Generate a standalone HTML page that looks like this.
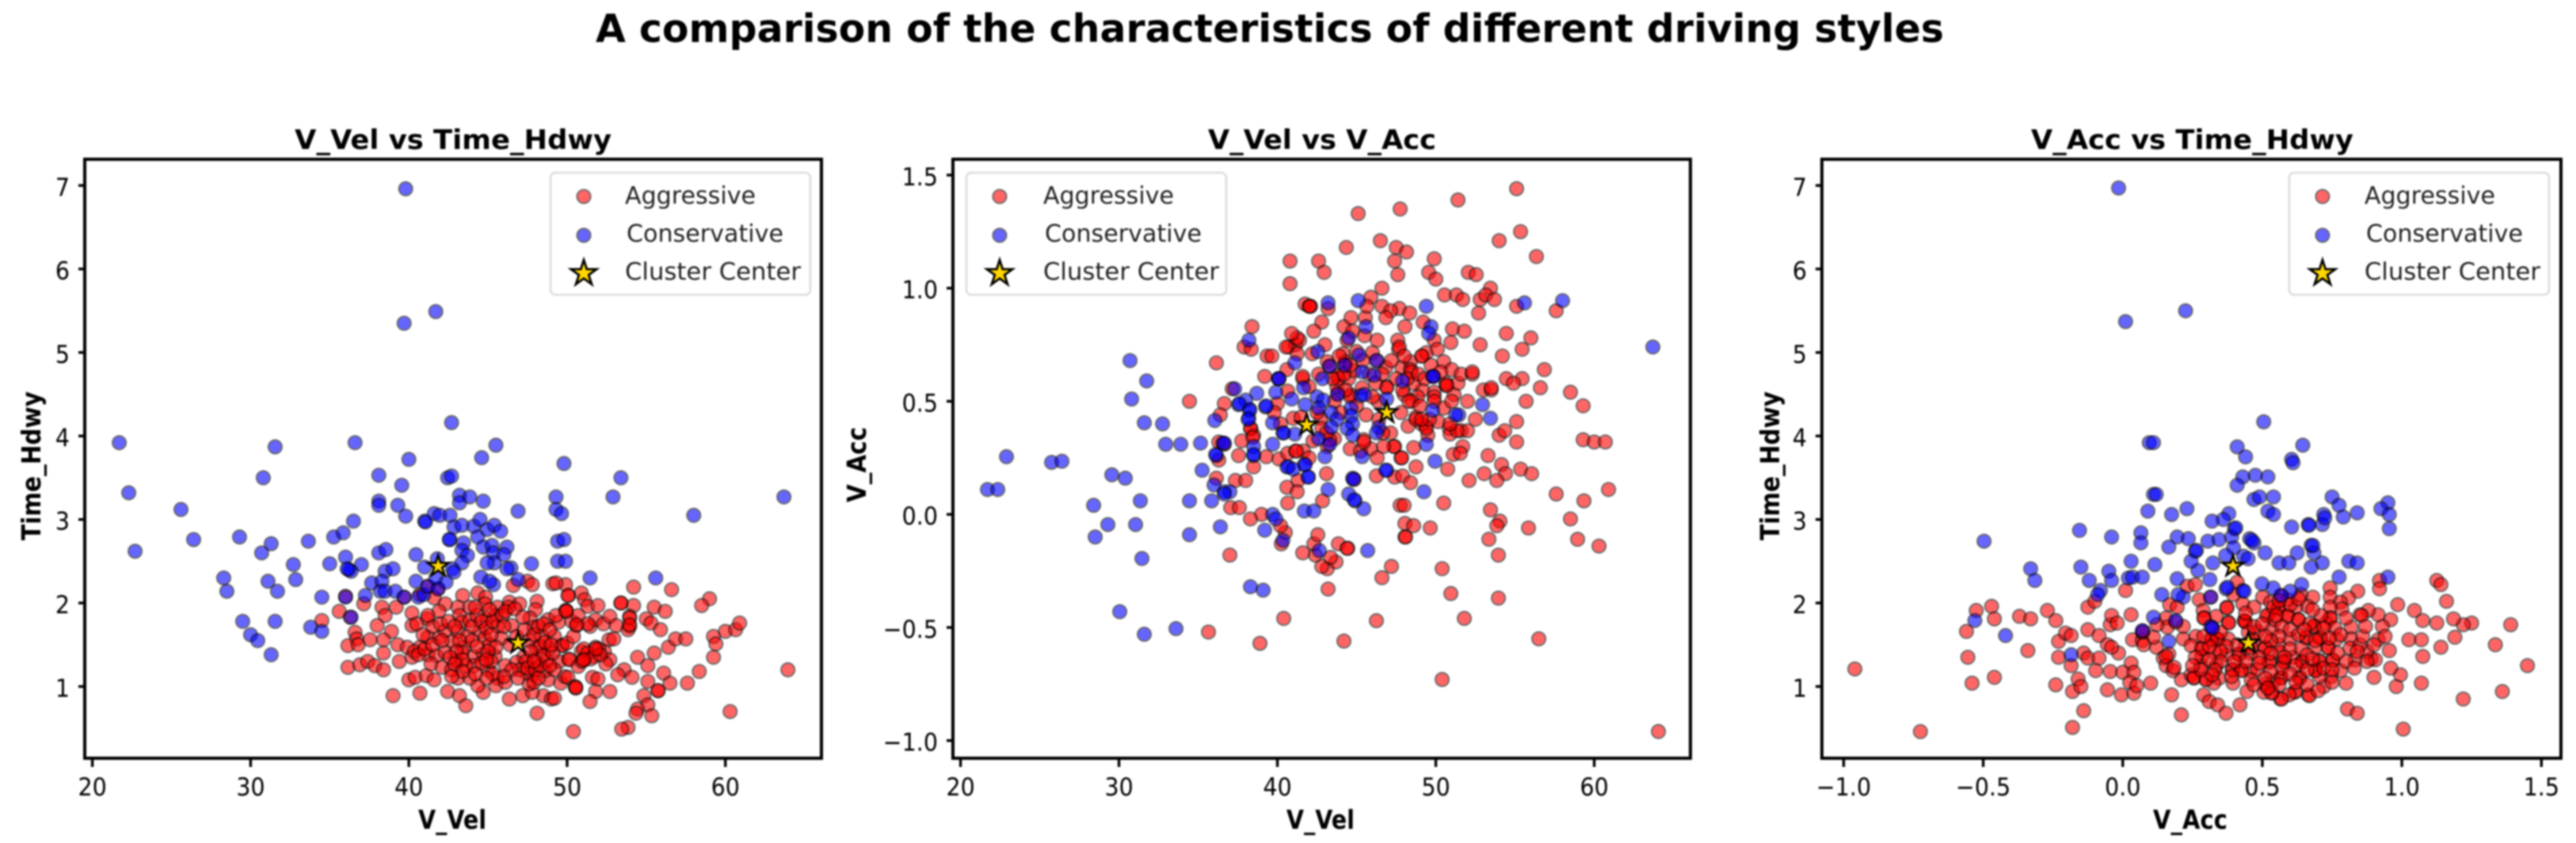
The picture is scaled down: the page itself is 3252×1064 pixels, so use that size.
<!DOCTYPE html>
<html lang="en">
<head>
<meta charset="utf-8">
<title>A comparison of the characteristics of different driving styles</title>
<style>
html,body{margin:0;padding:0;background:#fff;}
body{width:3252px;height:1064px;overflow:hidden;}
svg{display:block;filter:blur(1.1px);}
text{font-family:"DejaVu Sans","Liberation Sans",sans-serif;fill:#000;}
.bold{font-weight:bold;}
.leg{fill:#222;font-size:30px;}
</style>
</head>
<body>
<svg id="figure" xmlns="http://www.w3.org/2000/svg" width="3252" height="1064" viewBox="0 0 3252 1064">
  <rect x="0" y="0" width="3252" height="1064" fill="#fff"/>
  <text class="bold" x="752" y="53" font-size="49" textLength="1702" lengthAdjust="spacingAndGlyphs">A comparison of the characteristics of different driving styles</text>

  <g id="panel-1">
    <text class="bold" x="372" y="188" font-size="34" textLength="400" lengthAdjust="spacingAndGlyphs">V_Vel vs Time_Hdwy</text>
    <text class="bold" x="528" y="1046" font-size="33" textLength="86" lengthAdjust="spacingAndGlyphs">V_Vel</text>
    <text class="bold" transform="translate(51,682) rotate(-90)" font-size="33" textLength="188" lengthAdjust="spacingAndGlyphs">Time_Hdwy</text>
  </g>
  <g id="panel-2">
    <text class="bold" x="1525" y="188" font-size="34" textLength="288" lengthAdjust="spacingAndGlyphs">V_Vel vs V_Acc</text>
    <text class="bold" x="1624" y="1046" font-size="33" textLength="86" lengthAdjust="spacingAndGlyphs">V_Vel</text>
    <text class="bold" transform="translate(1093,634) rotate(-90)" font-size="33" textLength="95" lengthAdjust="spacingAndGlyphs">V_Acc</text>
  </g>
  <g id="panel-3">
    <text class="bold" x="2564" y="188" font-size="34" textLength="407" lengthAdjust="spacingAndGlyphs">V_Acc vs Time_Hdwy</text>
    <text class="bold" x="2718" y="1046" font-size="33" textLength="94" lengthAdjust="spacingAndGlyphs">V_Acc</text>
    <text class="bold" transform="translate(2246,682) rotate(-90)" font-size="33" textLength="188" lengthAdjust="spacingAndGlyphs">Time_Hdwy</text>
  </g>
  <g id="legends"></g>
</svg>
<script>
// ---------- Axis tick values and labels ----------
const velTicks = [20, 30, 40, 50, 60];
const velTickLabels = ['20', '30', '40', '50', '60'];
const hdwyTicks = [1, 2, 3, 4, 5, 6, 7];
const hdwyTickLabels = ['1', '2', '3', '4', '5', '6', '7'];
const accTicks = [-1, -0.5, 0, 0.5, 1, 1.5];
const accTickLabels = ['\u22121.0', '\u22120.5', '0.0', '0.5', '1.0', '1.5'];

// ---------- Axis data limits ----------
const velLimits = [19.52, 66.07];
const hdwyLimits = [0.141, 7.314];
const accLimits = [-1.078, 1.57];

// ---------- Cluster centers [V_Vel, Time_Hdwy, V_Acc] ----------
const aggressiveCenter = [46.9, 1.52, 0.45];
const conservativeCenter = [41.85, 2.44, 0.395];

// ---------- Panel 1: [V_Vel, Time_Hdwy] ----------
const velHdwyAggressive = [
[46.6,2.21],[47.5,2.26],[47.8,2.22],[49.1,2.23],[49.9,2.22],[50.1,2.09],[43.4,2.09],[44.35,2.12],[44.85,2.07],[44.8,1.99],[46.35,2.01],[47,1.99],[48.1,2.02],[48,1.92],[45.6,1.95],[46.3,1.95],
[41.85,2.17],[41.6,2.06],[42.3,1.99],[43.1,1.95],[43.85,1.95],[43.2,1.85],[41.9,1.9],[41.15,1.81],[40.2,1.88],[40.2,1.73],[39.2,1.95],[38.3,1.95],[38.5,1.85],[37.15,1.99],[35.6,1.9],[34.5,1.79],[38,1.73],[38.9,1.66],
[36.6,1.65],[36.7,1.57],[36.15,1.49],[36.8,1.5],[37.55,1.56],[38.4,1.56],[39.3,1.5],[38.4,1.4],[39.4,1.3],[39.9,1.47],[40.2,1.35],[36.15,1.23],[36.9,1.26],[37.4,1.3],[37.85,1.25],[38.4,1.2],
[40,1.08],[40.4,1.11],[41.1,1.13],[41.6,1.08],[39,0.89],[40.7,0.92],[42.45,0.94],[43.2,0.89],[43.6,0.77],[46.35,0.85],[47.2,0.89],[48.1,0.68],[48.5,0.89],[49,0.85],[47.8,0.93],[44.7,0.93],[44.35,1.01],[43.1,1.1],[43.85,1.1],[45.6,1.1],[45.5,1.01],[46.1,1.05],[47.85,1.14],[47.6,1.03],[48.8,1.08],[49.6,1.04],
[40.7,1.47],[41.2,1.59],[41.2,1.38],[41.75,1.37],[41.4,1.27],[42.1,1.23],[42.7,1.2],[43,1.31],[42.3,1.41],[41.9,1.58],[42.3,1.67],[42.75,1.54],[43.35,1.77],[43.1,1.66],[43.85,1.79],[43.7,1.6],[43.5,1.47],[44.5,1.66],[44.8,1.58],[44.1,1.36],[44.7,1.39],[45.1,1.5],[45.45,1.36],[45,1.2],[44.1,1.25],[43.6,1.25],[46.1,1.25],[44.9,1.81],[45.5,1.85],[45.6,1.72],[46.5,1.73],[47.65,1.82],[47.9,1.71],[48.8,1.8],[49.45,1.77],[49.9,1.91],[48.4,1.6],[49.2,1.6],[49.65,1.49],[48.05,1.46],[47.25,1.35],[48,1.32],[46.8,1.29],[47.45,1.16],[48.6,1.19],[48.85,1.44],[48.7,1.31],[49.5,1.3],[50.1,1.33],[49.85,1.12],[45.85,1.58],[45.5,1.47],
[36,2.08],[36.3,1.83],[39.7,2.07],[41.2,2.2],[40.7,2.1],
[49.3,2.24],[50.05,2.09],[54.2,2.19],[56.6,2.16],[59,2.05],[58.5,1.97],[50.9,2.12],[51.1,2.04],[51.3,1.96],[51.95,1.97],[53.4,2],[54.2,1.97],[55.5,1.95],[56.2,1.9],[49.95,1.91],[50.6,1.73],[51.45,1.72],[51.8,1.8],[52.3,1.75],[52.7,1.84],[53.1,1.73],[53.95,1.84],[53.95,1.72],[53.85,1.68],[55,1.81],[55.3,1.76],[55.9,1.68],[49.7,1.49],[50.9,1.42],[51.8,1.47],[52.65,1.56],[52.95,1.57],[52.35,1.42],[51.7,1.36],[51.05,1.32],[50.15,1.32],[50.7,1.24],[52.7,1.32],[52.45,1.27],[54.45,1.35],[55.5,1.4],[56.4,1.47],[56.85,1.57],[57.5,1.57],[59.25,1.6],[59.4,1.51],[59.25,1.35],[60,1.66],[60.65,1.68],[60.9,1.76],[55.1,1.25],[56.1,1.16],[58.35,1.18],[57.6,1.04],[56.5,1.04],[55.1,1.06],[55.75,0.95],[53.6,1.2],[53.2,1.14],[54.1,1.11],[54.85,0.89],[55.1,0.78],[54.45,0.73],[54.35,0.68],[55.35,0.65],[53.85,0.51],[53.45,0.49],[50.4,0.46],[60.3,0.7],[63.95,1.2],[51.6,1.11],[51.95,1.09],[51.8,0.94],[52.7,0.94],[51.45,0.82],[50.05,1.11],[50.5,1],[50.55,0.98],[49.2,0.86],
[40.5,1.75],[40.9,1.62],[41.5,1.72],[40.35,1.42],[40.6,1.38],[41,1.45],[41.5,1.5],[42,1.75],[42.5,1.78],[42.9,1.72],[43.2,1.55],[43.35,1.41],[43,1.42],[42.6,1.35],[43.4,1.32],[42.9,1.27],[44,1.55],[44.3,1.48],[44,1.72],[44.3,1.85],[44.6,1.78],[44.9,1.7],[45.2,1.62],[45.3,1.78],[45.9,1.85],[46.1,1.9],[46.7,1.93],[46,1.72],[46.4,1.5],[46.8,1.6],[47.3,1.68],[47.6,1.55],[47.9,1.62],[48.2,1.72],[48.5,1.75],[48.9,1.68],[49.3,1.85],[48.3,1.48],[48.6,1.53],[47.7,1.42],[47.4,1.3],[47,1.2],[47.5,1.22],[48,1.2],[48.3,1.25],[48.5,1.37],[49.1,1.4],[49.2,1.2],[48.9,1.25],[45,1.42],[45.2,1.3],[44.6,1.28],[44.9,1.32],[46.5,1.2],[46,1.12],[45.3,1.15],[44.9,1.1],[44.2,1.15],[43.4,1.18],[42.7,1.12],[46.9,1.1],[47.9,1.05],[41.2,1.85],[42.1,1.55],[44.2,1.95],[45.1,1.92],[47.2,1.83],[47.9,1.3],[48.2,1.1],[50,1.52],[50.4,1.6],[49,1.5],[50.3,1.78],[50.7,1.85],[51.3,1.75],[51.05,1.45],[51.3,1.4],[51.5,1.33],[50.95,1.3],[52,1.45],[52.1,1.38],
[51.8,1.45],[51.05,1.32],[53.95,1.82],[53.95,1.74],[53.4,2],[50.55,0.99],[55.75,0.95],[49.95,1.9],[50.6,1.74]
];
const velHdwyConservative = [
[21.7,3.92],[22.3,3.32],[22.7,2.62],[25.6,3.12],[26.4,2.76],[28.3,2.3],[28.5,2.14],[29.3,2.79],[29.5,1.78],[30,1.62],[30.45,1.55],[30.8,3.5],[30.7,2.6],[31.3,2.71],[31.1,2.26],[31.7,2.14],[31.55,1.78],[31.3,1.38],[31.55,3.87],[32.7,2.46],[32.85,2.28],[33.65,2.74],[34.5,2.07],[33.8,1.71],[34.5,1.66],
[35,2.47],[35.25,2.79],[35.85,2.84],[36,2.55],[36.2,2.4],[36.5,2.98],[37,2.46],[36.6,3.92],[36,2.07],[36.35,1.83],[37.25,2.09],[38.1,2.6],[38.55,2.64],[38.1,3.53],[38.1,3.22],[38.1,3.17],[39.3,3.17],[39.55,3.41],[39.8,3.04],[40,3.72],[39.8,6.96],[39.7,5.35],[41.7,5.49],[41,2.98],[41.6,3.07],[41.95,3.05],[42.6,3.05],[42.6,2.76],[42.45,3.5],[42.7,3.52],[42.7,4.16],[43.2,3.29],[43.2,3.2],[43.85,3.27],[44.7,3.22],[44.6,3.74],[45.5,3.89],[46.9,3.1],[47.75,2.47],[49.3,3.27],[49.3,3.12],[49.65,3.07],[49.8,3.67],[49.4,2.74],[49.8,2.76],[49.4,2.5],[49.9,2.5],[52.9,3.27],[53.4,3.5],[58,3.05],[63.7,3.27],[55.6,2.3],[51.45,2.3],
[36.35,2.38],[36.1,2.41],[38.5,2.38],[39,2.41],[37.65,2.24],[38.3,2.26],[38.2,2.14],[38.5,2.14],[39.15,2.14],[39.7,2.07],[40.6,2.07],[40.95,2.1],[40.45,2.26],[41.2,2.2],[41.85,2.17],[41.7,2.3],[42.35,2.25],[41,2.43],[41.8,2.53],[42.75,2.41],[40.45,2.58],[42.55,2.76],[42.85,2.91],[43.35,2.93],[44.1,2.92],[44.5,3],[44.35,2.79],[44.95,2.88],[45.4,2.93],[45.8,2.86],[43.45,2.72],[43.35,2.63],[43.7,2.57],[43.35,2.48],[42.85,2.37],[44.7,2.67],[45.25,2.69],[45.35,2.6],[46.2,2.67],[46,2.58],[45.4,2.48],[44.95,2.48],[46.45,2.42],[46.2,2.41],[44.55,2.31],[45.35,2.22],[45.1,2.26],[46.9,2.28],[41.05,2.97]
];

// ---------- Panel 2: [V_Vel, V_Acc] ----------
const velAccAggressive = [
[55.1,1.44],[51.4,1.39],[45.1,1.33],[47.75,1.35],[55.35,1.25],[54,1.21],[46.5,1.21],[44.35,1.18],[47.5,1.18],[48.15,1.16],[56.35,1.14],[49.9,1.13],[47.4,1.12],[40.8,1.12],[42.6,1.12],[42.95,1.07],[47.6,1.06],[49.55,1.07],[50,1.04],[52.05,1.07],[52.55,1.06],[40.8,1.02],[46.6,1],[53.45,1],[50.55,0.97],[51.3,0.97],[51.7,0.95],[52.8,0.95],[53.15,0.97],[53.7,0.95],[45.9,0.96],[55.1,0.92],[57.6,0.9],[52.7,0.89],[54.45,0.8],[56,0.78],[51.05,0.82],[51.8,0.81],[50.95,0.76],[52.8,0.75],[55.45,0.73],[54.2,0.7],[56.85,0.64],[54.45,0.6],[55.45,0.6],[54.9,0.58],[56.6,0.56],[58.5,0.54],[55.7,0.5],[59.3,0.48],[55.1,0.41],[54,0.35],[54.35,0.37],[59.3,0.33],[60,0.32],[60.7,0.32],[55.1,0.32],[53.3,0.26],[54.15,0.22],[55.35,0.2],[54.4,0.18],[53.05,0.18],[53.85,0.15],[52.1,0.15],[56.05,0.18],[57.6,0.09],[60.9,0.11],[59.35,0.06],[53.45,0.02],[50.5,0.05],[54.05,-0.03],[53.85,-0.05],[55.85,-0.06],[58.5,-0.02],[58.95,-0.11],[60.3,-0.14],[53.35,-0.11],[53.95,-0.18],[49.65,-0.06],[48.05,-0.04],[48.6,-0.05],[48.05,-0.1],[50.4,-0.24],[50.95,-0.35],[53.95,-0.37],[51.8,-0.46],[56.5,-0.55],[50.4,-0.73],[64.05,-0.96],[46.25,-0.47],[47.2,-0.23],[46.6,-0.28],[44.2,-0.56],[40.4,-0.46],[38.9,-0.57],[35.65,-0.52],[43.2,-0.33],[43.15,-0.24],[43.7,-0.21],[42.8,-0.23],[43.35,-0.19],[42.4,-0.18],[42.3,-0.13],[41.6,-0.17],[42.55,-0.09],[43.85,-0.13],[44.45,-0.15],[40.5,-0.08],[40.2,-0.05],[40.25,-0.13],[39,0],[38.3,-0.02],[37,-0.18],[37.05,0.03],[37.6,0.03],[36.15,0.16],[37.35,0.15],[38,0.15],[38.5,0.21],[37.55,0.26],[36.3,0.24],[36.3,0.32],[34.45,0.5],[36.15,0.67],[36.65,0.49],[36.4,0.44],[37.9,0.74],[38.4,0.83],[38.35,0.73],[39.35,0.7],[39.65,0.7],[39.2,0.61],[41.75,0.93],[42.1,0.92],[43.2,0.91],[42.8,0.85],[42.3,0.81],[44.2,0.83],[44.65,0.87],[45.55,0.87],[46.6,0.92],[47.7,0.91],[48.35,0.89],[47.15,0.9],[46.85,0.87],[48.05,0.83],[46.3,0.77],[44.75,0.81],[40.7,0.74],[41.15,0.75],[41.4,0.77],[42.2,0.71],
[45.65,0.92],[42,0.92],[45.5,0.79],[47.6,0.77],[47.65,0.73],[49.9,0.77],[41.25,0.71],[44.15,0.71],[44.3,0.675],[43.15,0.675],[46,0.715],[46.85,0.65],[47.85,0.65],[48.4,0.675],[48.4,0.64],[49.15,0.7],[49.4,0.715],[50.1,0.73],[50.5,0.675],[51,0.64],[40.6,0.64],[42.6,0.62],[43.8,0.615],[44.5,0.6],[44.85,0.635],[41.6,0.6],[50.65,0.57],[49.9,0.54],[49.15,0.55],[48.6,0.58],[46.9,0.565],[48,0.53],[48.85,0.52],[48.5,0.5],[51.15,0.53],[49.9,0.52],[37.15,0.555],[40.65,0.545],[40,0.49],[42,0.565],[43.8,0.535],[44.6,0.53],[43.75,0.565],[45.35,0.56],[46.35,0.5],[38.33,0.38],[38.5,0.35],[37.75,0.325],[39.3,0.255],[40.1,0.245],[40.65,0.27],[41.15,0.28],[41.65,0.28],[42,0.25],[41,0.425],[42.75,0.425],[42.25,0.325],[43.6,0.335],[43.15,0.3],[44.6,0.29],[45.25,0.28],[45.9,0.29],[45.45,0.33],[47.4,0.3],[47.15,0.36],[46.65,0.36],[47.8,0.25],[48.6,0.295],[48.75,0.21],[50.75,0.2],[51.1,0.265],[48.25,0.39],[48.75,0.43],[49.1,0.4],[49.4,0.39],[50.15,0.41],[49.5,0.35],[50.85,0.38],[50.9,0.355],[43.1,0.18],[46.25,0.17],[47.4,0.165],[47.9,0.17],[48.4,0.14],[41.3,0.15],[40.6,0.12],[41.25,0.1],[42.85,0.06],[47.75,0.04],[48,0.04],[40.65,0.05],[44.85,0.155],[36.65,0.31],[40.1,0.6],[44.25,0.66],[43.3,0.655],[46.3,0.68],[49.85,0.61],
[42.05,0.92],[47.7,0.74],[48.45,0.63],[49.1,0.7],[43.85,0.6],[44.6,0.52],[46.9,0.56],[49.9,0.5],[50.65,0.58],[48.75,0.42],[49.4,0.38],[41.2,0.28],[47.85,0.25],[38.3,0.38],[38.45,0.34],[41.25,0.78],[40.55,0.74],[45.45,0.32],[47.35,0.3],[43.3,0.33],[41.6,0.61],
[43.5,0.6],[43.9,0.7],[44.2,0.62],[44.6,0.66],[45,0.72],[45.4,0.68],[45.8,0.62],[46.2,0.58],[46.6,0.62],[47.2,0.68],[47.5,0.6],[47.9,0.55],[48.2,0.6],[48.9,0.62],[49.3,0.6],[49.7,0.66],[50.3,0.63],[43.6,0.5],[44,0.45],[44.3,0.55],[45,0.48],[45.6,0.44],[46,0.52],[46.4,0.42],[47.8,0.45],[48.3,0.5],[49,0.48],[49.6,0.42],[50.5,0.47],[51,0.5],[51.4,0.58],[51.6,0.62],[52,0.5],[52.3,0.62],[52.5,0.42],[53,0.55],[53.5,0.55],[51.6,0.37],[52,0.37],[51.7,0.3],[51.35,0.37],[50.9,0.4],[51.55,0.27],[46.3,0.25],[46.7,0.3],[42.5,0.45],[42.8,0.38],[43.1,0.36],[41.5,0.43],[40.2,0.4],[39.8,0.45],[40.9,0.8],[49.2,0.85],[48,0.7],[44.4,0.77],[43,0.75],[52.3,0.63],[53.5,0.56],[48.1,-0.1],[44.4,-0.15],[50.7,0.57],[49.1,0.42]
];
const velAccConservative = [
[21.7,0.11],[22.35,0.11],[22.9,0.255],[25.75,0.23],[26.4,0.235],[28.4,0.04],[28.5,-0.1],[29.3,-0.045],[29.55,0.175],[30.4,0.16],[30.05,-0.43],[30.7,0.68],[30.8,0.51],[31.05,-0.045],[31.35,0.06],[31.45,-0.195],[31.6,0.405],[31.75,0.59],[31.6,-0.53],[32.75,0.4],[32.95,0.31],[33.9,0.31],[33.6,-0.505],[34.45,0.06],[34.45,-0.09],[35.15,0.315],[35.25,0.195],[35.85,0.06],[36.05,0.415],[36.15,0.26],[36,0.13],[36.4,-0.055],[36.65,0.1],[37,0.1],[36.55,0.315],[38.3,-0.32],[39.1,-0.335],[63.7,0.74],[58,0.945],[55.6,0.935],[49.4,0.92],[49.7,0.83],[49.55,0.8],[49.8,0.61],[49.8,0.46],[49.4,0.31],[49.95,0.235],[49.25,0.1],[52.95,0.485],[53.45,0.425],[51.45,0.44],[43.2,0.935],[45.1,0.945],[39.2,-0.07],[45.7,-0.16],[45.45,0.025],[44.9,0.06],[44.5,0.09],[43.2,0.11],[46.9,0.195],[45.35,0.255],[40.35,-0.115],[42.65,-0.16],[39.7,0],[39.9,-0.02],[41.7,0.015],[42.3,0.015],[40.7,0.21],[41.7,0.22],[41.95,0.165],[43,0.255],[38.5,0.26],[38.5,0.3],[39.7,0.405],[39.7,0.31],[40.35,0.36],[44.75,0.16],[38.2,0.77],[41.1,0.67],[42.55,0.72],[44.5,0.78],[45.6,0.83],[37.55,0.485],[38.7,0.535],[39.25,0.475],[38.25,0.465],[38.2,0.425],[40.05,0.6],[39.9,0.54],
[45.15,0.705],[46.25,0.68],[44.25,0.66],[43.3,0.655],[45.35,0.63],[46.1,0.615],[49.85,0.61],[47.9,0.59],[42.85,0.6],[40.1,0.6],[41.65,0.56],[40.9,0.51],[37.3,0.555],[38,0.505],[38.25,0.46],[37.6,0.49],[39.3,0.48],[38.15,0.42],[41.75,0.485],[42.5,0.52],[42.9,0.505],[42.6,0.47],[43.8,0.53],[45.25,0.525],[45.5,0.53],[46.9,0.51],[44.65,0.47],[43.4,0.45],[43.75,0.42],[44.65,0.435],[44.75,0.4],[44.4,0.38],[43.4,0.385],[44.75,0.35],[46.4,0.385],[46.25,0.36],[40.4,0.36],[41.1,0.355],[42.6,0.335],[43.3,0.31],[51.25,0.44],[36.65,0.315],[36.1,0.265],[38.5,0.265],[41.75,0.22],[40.6,0.21],[41,0.2],[41.95,0.165],[46.85,0.195],[44.8,0.155],[36.65,0.09],[44.85,0.065]
];

// ---------- Panel 3: [V_Acc, Time_Hdwy] ----------
const accHdwyAggressive = [
[-0.96,1.21],[-0.725,0.46],[-0.56,1.66],[-0.525,1.91],[-0.555,1.35],[-0.54,1.04],[-0.46,1.11],[-0.47,1.96],[-0.46,1.81],[-0.37,1.84],[-0.33,1.81],[-0.34,1.43],[-0.27,1.91],[-0.24,1.79],[-0.23,1.54],[-0.205,1.64],[-0.185,1.61],[-0.23,1.35],[-0.24,1.02],[-0.185,1.25],[-0.16,1.09],[-0.18,0.94],[-0.15,1],[-0.14,0.71],[-0.18,0.51],[-0.14,1.4],[-0.125,1.34],[-0.125,1.68],[-0.125,1.95],[-0.1,2.02],[-0.085,1.61],[-0.085,1.34],[-0.097,1.19],[-0.055,1.5],[-0.045,1.18],[-0.055,0.96],[-0.005,0.9],[-0.015,1.4],[-0.04,1.47],[-0.045,1.74],[-0.04,1.85],[-0.02,1.76],[0.01,2.15],[0.03,1.86],[0.035,1.56],[0.03,1.28],[0,1.17],[0.04,1.17],[0.025,1.05],[0.04,0.92],[0.05,1.01],[0.1,1.04],[0.07,1.55],[0.12,1.47],[0.07,1.65],[0.145,1.34],[0.165,1.39],[0.155,1.25],[0.18,1.19],[0.175,0.9],[0.21,0.66],[0.21,1.08],[0.245,1.14],[0.255,1.1],[0.29,0.9],[0.31,0.82],[0.34,0.78],[0.37,0.68],[0.42,0.78],[0.445,0.94],[0.395,1.04],[0.345,1.1],[0.565,0.85],[0.615,0.93],[0.665,0.9],[0.52,1],
[0.8,1.04],[0.805,0.73],[0.84,0.68],[0.9,1.11],[0.98,1],[1.005,0.49],[0.995,1.14],[1.07,1.04],[1.22,0.85],[1.36,0.94],[1.45,1.25],[1.335,1.5],[1.39,1.74],[1.25,1.76],[1.22,1.74],[1.185,1.81],[1.19,1.59],[1.16,2.02],[1.125,2.27],[1.14,2.22],[1.045,1.91],[1.075,1.79],[1.125,1.76],[1.07,1.56],[1.025,1.56],[1.14,1.47],[1.075,1.36],[0.985,1.98],[0.96,1.8],[0.92,2.27],[0.92,2.17],[0.955,1.43],[0.96,1.22],[0.89,1.33],[0.905,1.32],[0.915,1.56],[0.93,1.72],[0.915,1.86],[0.88,1.91],[0.85,1.86],
[0.231,2.2],[0.26,2.22],[0.41,2.25],[0.397,2.1],[0.274,2.04],[0.168,1.98],[0.195,1.95],[0.373,1.95],[0.288,1.91],[0.293,1.82],[0.335,1.84],[0.43,1.99],[0.378,1.77],[0.435,1.79],[0.155,1.82],[0.16,1.71],[0.11,1.59],[0.217,1.57],[0.262,1.6],[0.075,1.5],[0.298,1.09],[0.326,1.04],[0.279,1.25],[0.335,1.25],[0.283,1.46],[0.245,1.49],[0.283,1.36],[0.317,1.57],[0.34,1.57],[0.378,1.57],[0.416,1.39],[0.373,1.38],[0.33,1.41],[0.392,1.2],[0.425,1.2],[0.458,1.19],[0.482,1.2],[0.525,1.3],[0.51,1.47],[0.482,1.66],[0.534,1.68],[0.558,1.5],[0.563,1.41],[0.577,1.3],[0.61,1.35],[0.643,1.3],[0.6,1.57],[0.657,1.58],[0.69,1.47],[0.708,1.59],[0.736,1.47],[0.705,1.31],[0.752,1.32],[0.766,1.57],[0.818,1.71],[0.818,1.57],[0.814,1.46],[0.833,1.32],[0.875,1.42],[0.875,1.3],[0.78,1.19],[0.747,1.12],[0.72,1],[0.669,0.89],[0.62,0.94],[0.596,0.9],[0.569,0.85],[0.534,0.93],[0.506,0.93],[0.567,1.11],[0.539,1.06],[0.51,1.03],[0.634,1.11],[0.69,1.2],[0.705,1.12],[0.743,2.18],[0.743,2.07],[0.842,2.14],[0.809,2.06],[0.78,2.01],[0.785,1.93],[0.743,1.95],[0.743,1.82],[0.856,1.85],[0.681,2.07],[0.662,1.96],[0.62,1.95],[0.558,1.93],[0.52,1.85],[0.501,2.07],[0.53,2.01],[0.591,1.85],[0.629,1.8],[0.686,1.73],[0.728,1.76],[0.591,2.04],[0.638,2.1],[0.44,1.77],[0.122,1.74],[0.217,1.72],[0.321,1.7],[0.073,1.66],[0.19,1.77],[0.315,2.07],[0.567,2.09],
[0.373,1.94],[0.29,1.82],[0.38,1.76],[0.437,1.78],[0.34,1.56],[0.318,1.56],[0.283,1.45],[0.417,1.38],[0.394,1.2],[0.425,1.19],[0.51,1.46],[0.525,1.29],[0.558,1.94],[0.515,1.85],[0.59,1.84],[0.63,1.8],[0.686,1.72],[0.744,1.82],[0.657,1.59],[0.708,1.58],[0.736,1.46],[0.705,1.3],[0.752,1.31],[0.643,1.29],[0.577,1.29],[0.567,1.1],[0.534,0.92],[0.634,1.1],[0.69,1.19],[0.155,1.36],[0.184,1.23],[0.255,1.11],[0.298,1.08],
[0.45,1.65],[0.47,1.72],[0.5,1.75],[0.545,1.8],[0.57,1.72],[0.6,1.68],[0.63,1.62],[0.56,1.6],[0.53,1.55],[0.47,1.55],[0.44,1.5],[0.41,1.5],[0.37,1.48],[0.35,1.42],[0.46,1.4],[0.49,1.35],[0.53,1.4],[0.6,1.45],[0.64,1.45],[0.66,1.38],[0.62,1.25],[0.57,1.22],[0.53,1.18],[0.49,1.28],[0.44,1.3],[0.4,1.3],[0.35,1.3],[0.31,1.32],[0.33,1.2],[0.67,1.75],[0.65,1.68],[0.71,1.85],[0.76,1.7],[0.78,1.62],[0.8,1.82],[0.72,1.7],[0.69,1.55],[0.77,1.4],[0.8,1.3],[0.72,1.22],[0.66,1.2],[0.6,1.15],[0.75,1.2],[0.83,1.22],[0.85,1.5],[0.86,1.6],[0.54,1.95],[0.6,1.98],[0.63,2.05],[0.56,2.03],[0.68,1.92],[0.55,1.85],[0.47,1.95],[0.44,1.88],[0.35,1.65],[0.31,1.48],[0.29,1.6],[0.26,1.35],[0.51,1.1],[0.46,1.08],[0.56,1.02],[0.66,1.02],[0.75,1.05],[0.7,0.95],[0.62,1.05],[0.47,1.02],[0.52,0.98],[0.39,1.12],[0.32,1.14],[0.28,1.2],[0.25,1.25],[0.84,1.42],[0.9,1.5],[0.87,1.72],[0.94,1.6],[0.46,1.47],[0.51,1.6],[0.58,1.35],[0.68,1.33],[0.74,1.58]
];
const accHdwyConservative = [
[-0.015,6.97],[0.01,5.37],[0.225,5.5],[0.505,4.17],[0.095,3.92],[0.11,3.92],[0.41,3.87],[0.44,3.75],[0.645,3.89],[0.605,3.72],[0.61,3.68],[0.475,3.53],[0.52,3.51],[0.43,3.51],[0.41,3.41],[0.11,3.3],[0.12,3.3],[0.47,3.24],[0.49,3.27],[0.54,3.27],[0.75,3.27],[0.775,3.17],[0.95,3.2],[0.925,3.13],[0.955,3.06],[0.79,3.03],[0.72,3.06],[0.84,3.08],[0.52,3.1],[0.54,3.06],[0.23,3.13],[0.175,3.06],[0.09,3.1],[0.38,3.07],[0.36,3],[0.32,2.98],[0.605,2.91],[0.665,2.94],[0.715,2.94],[0.4,2.89],[0.955,2.89],[-0.155,2.87],[-0.04,2.79],[0.065,2.84],[0.065,2.72],[-0.497,2.74],[0.195,2.79],[0.235,2.77],[0.165,2.67],[0.305,2.74],[0.345,2.76],[0.39,2.79],[0.455,2.77],[0.47,2.72],[0.675,2.69],[0.685,2.6],[0.26,2.62],[0.51,2.6],[0.625,2.6],[0.81,2.5],[0.84,2.48],[0.715,2.48],[0.675,2.43],[0.56,2.48],[0.595,2.48],[0.03,2.5],[0.115,2.46],[-0.15,2.43],[-0.05,2.38],[-0.33,2.41],[-0.315,2.27],[-0.04,2.27],[-0.12,2.27],[0.02,2.3],[0.035,2.31],[0.07,2.31],[0.195,2.29],[0.775,2.31],[0.95,2.31],[-0.08,2.15],[-0.09,2.1],[0.14,2.1],[-0.53,1.79],[-0.42,1.61],[-0.185,1.38],[0.07,1.67],[0.165,1.54],[0.11,1.83],[0.19,1.79],[0.315,1.72],[0.37,2.17],[0.43,2.15],
[0.667,2.93],[0.724,3.02],[0.681,2.69],[0.641,2.22],[0.6,2.14],[0.567,2.09],[0.539,2.18],[0.499,2.23],[0.435,2.14],[0.375,2.19],[0.315,2.07],[0.321,1.7],[0.217,2.07],[0.198,2.1],[0.312,2.28],[0.269,2.39],[0.245,2.5],[0.323,2.48],[0.264,2.63],[0.405,2.9],[0.397,2.66],[0.369,2.57],[0.433,2.56],[0.449,2.53],[0.463,2.75]
];

// ---------- Rendering ----------
const SVG_NS = 'http://www.w3.org/2000/svg';
const DOT_RADIUS = 8.6;

function linearScale(domain, range) {
  return function (value) {
    return range[0] + (value - domain[0]) / (domain[1] - domain[0]) * (range[1] - range[0]);
  };
}
function makeShape(tag, attrs, parent) {
  const el = document.createElementNS(SVG_NS, tag);
  Object.keys(attrs).forEach(function (k) { el.setAttribute(k, attrs[k]); });
  parent.appendChild(el);
  return el;
}
function starPoints(cx, cy, outer) {
  const inner = outer * 0.382;
  const pts = [];
  for (let i = 0; i < 10; i++) {
    const r = i % 2 === 0 ? outer : inner;
    const angle = -Math.PI / 2 + i * Math.PI / 5;
    pts.push((cx + r * Math.cos(angle)).toFixed(2) + ',' + (cy + r * Math.sin(angle)).toFixed(2));
  }
  return pts.join(' ');
}
function drawDots(parent, points, xScale, yScale, color, name) {
  points.forEach(function (p) {
    const dot = makeShape('circle', {
      cx: xScale(p[0]).toFixed(2), cy: yScale(p[1]).toFixed(2), r: DOT_RADIUS,
      fill: color, stroke: '#000', 'stroke-width': 1.8, opacity: 0.6
    }, parent);
    
    
  });
}
function drawCenter(parent, cx, cy, name) {
  const star = makeShape('polygon', {
    points: starPoints(cx, cy, 14), fill: '#FFD700', stroke: '#000',
    'stroke-width': 2.6, 'stroke-linejoin': 'miter'
  }, parent);
  
  
}
function tickText(parent, label, x, y, anchor) {
  const t = makeShape('text', {
    transform: 'translate(' + x.toFixed(2) + ',' + y.toFixed(2) + ') scale(0.92,1)',
    'font-size': 31, 'text-anchor': anchor, fill: '#222'
  }, parent);
  t.textContent = label;
  
  
}
function drawXTicks(parent, xScale, ticks, labels, bottom) {
  ticks.forEach(function (v, i) {
    const px = xScale(v);
    const mark = makeShape('line', { x1: px, x2: px, y1: bottom, y2: bottom + 11, stroke: '#000', 'stroke-width': 3.4 }, parent);
    
    
    tickText(parent, labels[i], px, bottom + 47, 'middle');
  });
}
function drawYTicks(parent, yScale, ticks, labels, left) {
  ticks.forEach(function (v, i) {
    const py = yScale(v);
    const mark = makeShape('line', { x1: left - 8, x2: left, y1: py, y2: py, stroke: '#000', 'stroke-width': 3.4 }, parent);
    
    
    tickText(parent, labels[i], left - 19, py + 13, 'end');
  });
}
function drawLegend(parent, boxLeft, textOffset) {
  const group = makeShape('g', {}, parent);
  
  
  const box = makeShape('rect', {
    x: boxLeft, y: 218, width: 328, height: 154, rx: 6, ry: 6,
    fill: '#fff', 'fill-opacity': 0.8, stroke: '#dcdcdc', 'stroke-width': 2.6
  }, group);
  
  
  const mx = boxLeft + 42;
  const tx = boxLeft + textOffset;
  const red = makeShape('circle', { cx: mx, cy: 248, r: DOT_RADIUS, fill: '#f00', stroke: '#000', 'stroke-width': 1.8, opacity: 0.6 }, group);
  
  
  const blue = makeShape('circle', { cx: mx, cy: 297, r: DOT_RADIUS, fill: '#00f', stroke: '#000', 'stroke-width': 1.8, opacity: 0.6 }, group);
  
  
  const star = makeShape('polygon', { points: starPoints(mx, 345, 17), fill: '#FFD700', stroke: '#000', 'stroke-width': 2.8 }, group);
  
  
  const t1 = makeShape('text', { x: tx, y: 257, class: 'leg', textLength: 165, lengthAdjust: 'spacingAndGlyphs' }, group);
  t1.textContent = 'Aggressive';
  
  
  const t2 = makeShape('text', { x: tx + 2, y: 305, class: 'leg', textLength: 198, lengthAdjust: 'spacingAndGlyphs' }, group);
  t2.textContent = 'Conservative';
  
  
  const t3 = makeShape('text', { x: tx, y: 353, class: 'leg', textLength: 222, lengthAdjust: 'spacingAndGlyphs' }, group);
  t3.textContent = 'Cluster Center';
  
  
}
function drawPanel(parentId, left, right, xLimits, yLimits, xTicks, xLabels, yTicks, yLabels, aggressive, conservative, centerA, centerC) {
  const TOP = 201;
  const BOTTOM = 957;
  const parent = document.getElementById(parentId);
  const xScale = linearScale(xLimits, [left, right]);
  const yScale = linearScale(yLimits, [BOTTOM, TOP]);
  drawDots(parent, aggressive, xScale, yScale, '#f00', 'aggressive-point');
  drawDots(parent, conservative, xScale, yScale, '#00f', 'conservative-point');
  drawCenter(parent, xScale(centerC[0]), yScale(centerC[1]), 'conservative-cluster-center');
  drawCenter(parent, xScale(centerA[0]), yScale(centerA[1]), 'aggressive-cluster-center');
  const frame = makeShape('rect', { x: left, y: TOP, width: right - left, height: BOTTOM - TOP, fill: 'none', stroke: '#000', 'stroke-width': 4 }, parent);
  
  
  drawXTicks(parent, xScale, xTicks, xLabels, BOTTOM);
  drawYTicks(parent, yScale, yTicks, yLabels, left);
}

drawPanel('panel-1', 107, 1037, velLimits, hdwyLimits, velTicks, velTickLabels, hdwyTicks, hdwyTickLabels,
  velHdwyAggressive, velHdwyConservative,
  [aggressiveCenter[0], aggressiveCenter[1]], [conservativeCenter[0], conservativeCenter[1]]);
drawPanel('panel-2', 1203, 2134, velLimits, accLimits, velTicks, velTickLabels, accTicks, accTickLabels,
  velAccAggressive, velAccConservative,
  [aggressiveCenter[0], aggressiveCenter[2]], [conservativeCenter[0], conservativeCenter[2]]);
drawPanel('panel-3', 2300, 3233, accLimits, hdwyLimits, accTicks, accTickLabels, hdwyTicks, hdwyTickLabels,
  accHdwyAggressive, accHdwyConservative,
  [aggressiveCenter[2], aggressiveCenter[1]], [conservativeCenter[2], conservativeCenter[1]]);

const legendsLayer = document.getElementById('legends');
drawLegend(legendsLayer, 695, 94);
drawLegend(legendsLayer, 1220, 97);
drawLegend(legendsLayer, 2890, 95);
</script>
</body>
</html>
